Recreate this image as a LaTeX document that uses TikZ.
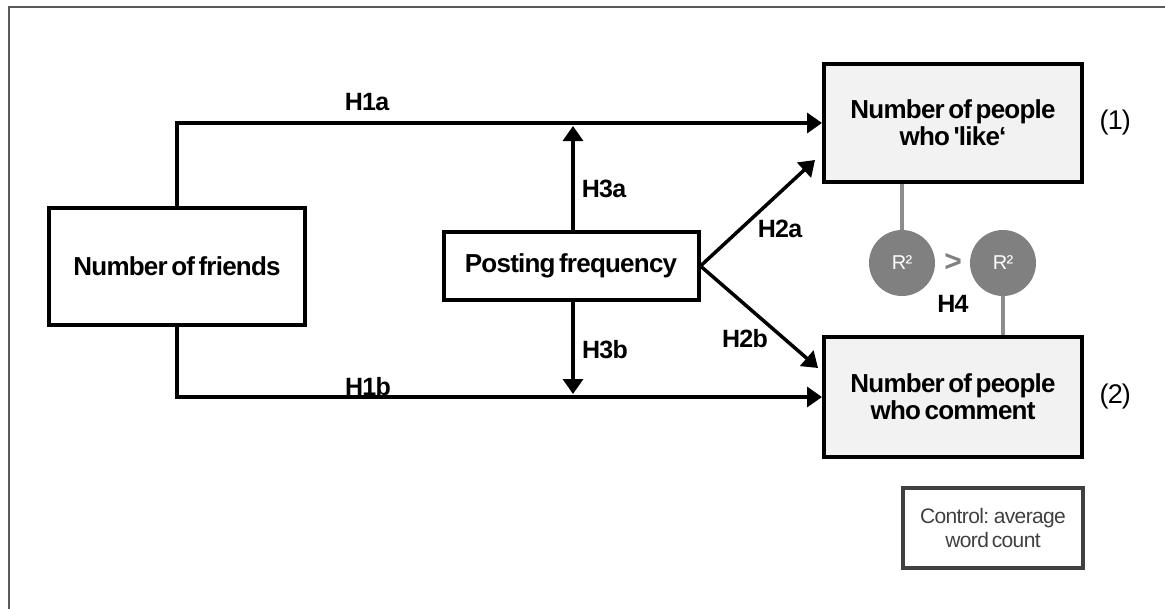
\documentclass[tikz,border=0pt]{standalone}
\usepackage{fontspec}
\setmainfont{Liberation Sans}
\newfontfamily\diagfont[LetterSpace=-3,WordSpace=0.55]{Liberation Sans}
\usetikzlibrary{arrows.meta,positioning,calc}
\definecolor{boxgray}{RGB}{242,242,242}
\definecolor{circgray}{RGB}{128,128,128}
\definecolor{linkgray}{RGB}{140,140,140}
\definecolor{ctrlgray}{RGB}{64,64,64}
\definecolor{framegray}{RGB}{90,90,90}

\begin{document}
\begin{tikzpicture}[x=1pt, y=-1pt, font=\diagfont\bfseries\fontsize{26}{27}\selectfont,
    varbox/.style={rectangle, draw=black, line width=4pt, align=center, inner sep=0pt},
    depbox/.style={varbox, fill=boxgray, minimum width=258, minimum height=118},
    arr/.style={line width=3.5pt, -{Triangle[length=15pt,width=20pt]}},
    hyp/.style={anchor=base, font=\diagfont\bfseries\fontsize{25}{27}\selectfont},
    rsq/.style={circle, fill=circgray, minimum size=66, inner sep=0pt, text=white,
                font=\diagfont\fontsize{20}{22}\selectfont},
    glink/.style={draw=linkgray, line width=4pt}]
  \useasboundingbox (0,0) rectangle (1165,608);
  \begin{scope}
    \clip (0,0) rectangle (1165,608);
    \draw[framegray, line width=2pt] (9,7) rectangle (1180,620);
  \end{scope}

  % variables
  \node[varbox, minimum width=256, minimum height=117] (friends) at (177,266) {Number of friends};
  \node[varbox, minimum width=255, minimum height=68] (posting) at (571,266) {Posting frequency};
  \node[depbox] (like) at (953,123) {Number of people\\who 'like‘};
  \node[depbox, minimum height=120] (comment) at (953,397) {Number of people\\who comment};
  \node[font=\diagfont\fontsize{27}{30}\selectfont, right=12pt of like] (num1) {(1)};
  \node[font=\diagfont\fontsize{27}{30}\selectfont, right=12pt of comment] (num2) {(2)};

  % R squared comparison
  \node[rsq] (r1) at (902,263) {R²};
  \node[rsq] (r2) at (1003,263) {R²};
  \node[text=circgray, font=\diagfont\bfseries\fontsize{30}{30}\selectfont] (gt) at (953,262) {>};
  \node[hyp] (h4) at (953,312) {H4};
  \draw[glink] (like.south -| r1) -- (r1.north);
  \draw[glink] (r2.south) -- (comment.north -| r2);

  % control
  \node[varbox, draw=ctrlgray, text=ctrlgray, minimum width=180, minimum height=80,
        font=\diagfont\fontsize{21}{24}\selectfont] (control) at (993,528) {Control: average\\word count};

  % paths
  \coordinate (h3top) at (573,126);
  \coordinate (h3bot) at (573,394);
  \coordinate (h2atip) at (815,160);
  \coordinate (h2btip) at (818,368);
  \draw[arr] (friends.north) |- (like.west);
  \draw[arr] (friends.south) |- (comment.west);
  \draw[arr] (posting.north -| h3top) -- (h3top);
  \draw[arr] (posting.south -| h3bot) -- (h3bot);
  \draw[arr] (posting.east) -- (h2atip);
  \draw[arr] (posting.east) -- (h2btip);

  % hypotheses
  \node[hyp] (h1a) at (367,110) {H1a};
  \node[hyp] (h1b) at (368,395) {H1b};
  \node[hyp] (h3a) at (604,197) {H3a};
  \node[hyp] (h3b) at (605,358) {H3b};
  \node[hyp] (h2a) at (780,237) {H2a};
  \node[hyp] (h2b) at (745,347) {H2b};
\end{tikzpicture}
\end{document}
